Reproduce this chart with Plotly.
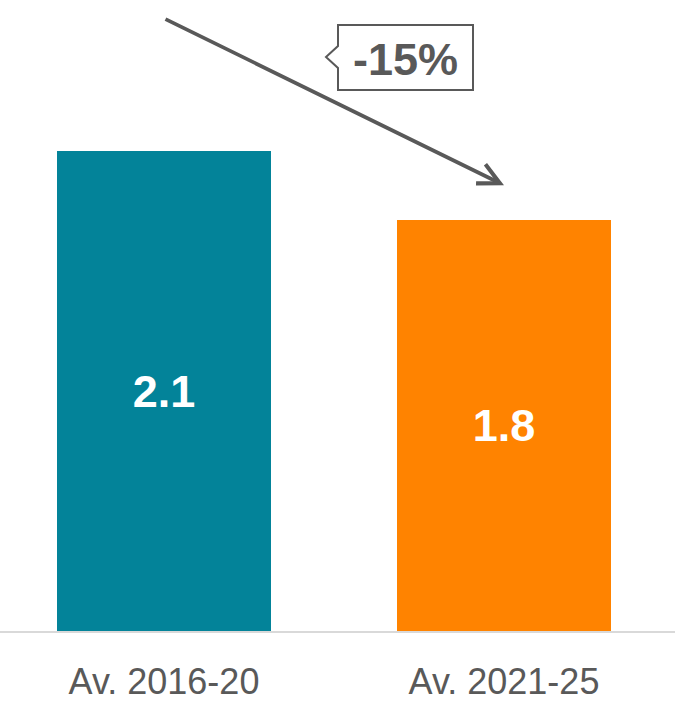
import plotly.graph_objects as go

# Data
categories = ['Av. 2016-20', 'Av. 2021-25']
values = [2.1, 1.8]
bar_labels = ['2.1', '1.8']
bar_colors = ['#038399', '#FF8300']
change_label = '-15%'

W, H = 675, 703
MB = 72
PLOT_H = H - MB

GREY = '#595959'
FONT = 'Arial, Liberation Sans, sans-serif'


def px_x(px):
    return px / W


def px_y(py):
    return (PLOT_H - py) / PLOT_H


fig = go.Figure()
fig.add_trace(go.Bar(
    x=categories,
    y=values,
    marker=dict(color=bar_colors, line=dict(width=0)),
    width=0.63,
    text=bar_labels,
    textposition='inside',
    insidetextanchor='middle',
    textfont=dict(family=FONT, size=45, color='white', weight='bold'),
    hoverinfo='skip',
))

# trend arrow from above first bar to above second bar
fig.add_annotation(
    x=1, y=values[1] + 0.15, xref='x', yref='y',
    ax=0, ay=values[0] + 0.58, axref='x', ayref='y',
    showarrow=True, arrowhead=5, arrowsize=1.1, arrowwidth=3.8,
    arrowcolor=GREY, text='',
)

# callout box with a small notch on the left
l, r, t, b = 338, 473, 25, 90
path = (f'M {px_x(l)},{px_y(t)} L {px_x(r)},{px_y(t)} L {px_x(r)},{px_y(b)} '
        f'L {px_x(l)},{px_y(b)} L {px_x(l)},{px_y(68)} L {px_x(326)},{px_y(57)} '
        f'L {px_x(l)},{px_y(46)} Z')
fig.add_shape(type='path', path=path, xref='paper', yref='paper',
              fillcolor='white', line=dict(color=GREY, width=2), layer='above')
fig.add_annotation(
    x=px_x((l + r) / 2), y=px_y((t + b) / 2 + 2), xref='paper', yref='paper',
    xanchor='center', yanchor='middle',
    text=change_label, showarrow=False,
    font=dict(family=FONT, size=45, color=GREY, weight='bold'),
)

fig.update_layout(
    width=W, height=H,
    margin=dict(l=0, r=0, t=0, b=MB),
    plot_bgcolor='white', paper_bgcolor='white',
    showlegend=False,
    bargap=0,
)
fig.update_xaxes(
    range=[-164 / 340, (W - 164) / 340],
    showline=True, linecolor='#d9d9d9', linewidth=2,
    showgrid=False, zeroline=False, ticks='',
    tickfont=dict(family=FONT, size=36, color=GREY),
    ticklabelstandoff=18, automargin=False,
)
fig.update_yaxes(range=[0, PLOT_H / 228.6], visible=False, showgrid=False, zeroline=False)

# drop the default page margin so the figure sits at the window corner
fig.write_html('out.html', config={'displayModeBar': False},
               post_script="document.body.style.margin='0';")
